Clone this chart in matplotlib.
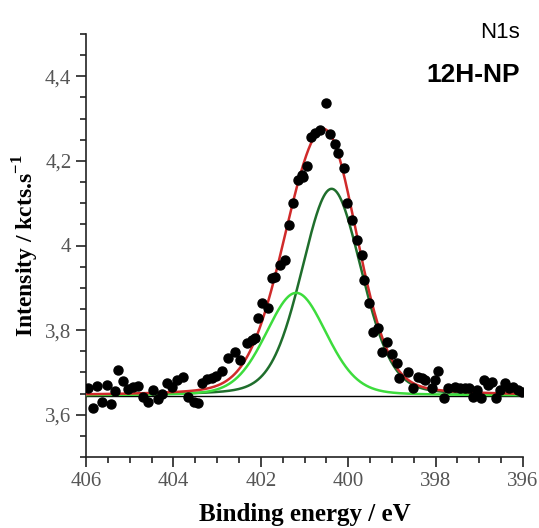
import numpy as np
import matplotlib
matplotlib.use('Agg')
import matplotlib.pyplot as plt
from matplotlib.ticker import MultipleLocator, FixedLocator, FixedFormatter

# measured XPS points (binding energy in eV, intensity in kcts/s)
energy = [405.95, 405.83, 405.74, 405.64, 405.53, 405.43, 405.34, 405.26, 405.15, 405.03,
          404.92, 404.80, 404.69, 404.57, 404.46, 404.35, 404.25, 404.15, 404.04, 403.92,
          403.77, 403.66, 403.54, 403.43, 403.35, 403.24, 403.12, 403.03, 402.89, 402.74,
          402.59, 402.48, 402.32, 402.21, 402.13, 402.06, 401.98, 401.83, 401.75, 401.68,
          401.56, 401.45, 401.35, 401.27, 401.16, 401.06, 401.03, 400.95, 400.86, 400.76,
          400.65, 400.51, 400.42, 400.30, 400.23, 400.10, 400.03, 399.92, 399.79, 399.69,
          399.63, 399.52, 399.43, 399.31, 399.23, 399.12, 399.00, 398.89, 398.83, 398.64,
          398.52, 398.41, 398.32, 398.24, 398.09, 398.01, 397.94, 397.81, 397.71, 397.56,
          397.44, 397.33, 397.24, 397.14, 397.05, 396.96, 396.89, 396.79, 396.71, 396.62,
          396.53, 396.41, 396.32, 396.22, 396.11, 396.03]
counts = [3.662, 3.615, 3.668, 3.631, 3.670, 3.625, 3.657, 3.706, 3.680, 3.660,
          3.666, 3.668, 3.641, 3.631, 3.658, 3.636, 3.649, 3.674, 3.665, 3.682,
          3.688, 3.643, 3.631, 3.627, 3.674, 3.684, 3.686, 3.691, 3.704, 3.733,
          3.749, 3.729, 3.769, 3.777, 3.781, 3.828, 3.863, 3.852, 3.922, 3.926,
          3.954, 3.966, 4.048, 4.100, 4.155, 4.167, 4.163, 4.188, 4.257, 4.265,
          4.273, 4.338, 4.263, 4.240, 4.218, 4.184, 4.101, 4.060, 4.013, 3.978,
          3.918, 3.863, 3.796, 3.806, 3.749, 3.773, 3.743, 3.722, 3.686, 3.702,
          3.664, 3.690, 3.686, 3.682, 3.662, 3.682, 3.703, 3.639, 3.662, 3.666,
          3.662, 3.663, 3.662, 3.643, 3.658, 3.639, 3.682, 3.670, 3.678, 3.639,
          3.658, 3.674, 3.664, 3.666, 3.658, 3.654]

# fitted components
baseline = 3.645
peak_pos = [400.38, 401.19]
peak_height = [0.489, 0.243]
peak_fwhm = [1.62, 1.64]
peak_colors = ['#1f6e2c', '#3ddc3d']
lorentz_frac = 0.2

ytick_vals = [3.6, 3.8, 4.0, 4.2, 4.4]
ytick_labels = ['3,6', '3,8', '4', '4,2', '4,4']
xtick_vals = [406, 404, 402, 400, 398, 396]


def pseudo_voigt(x, x0, h, fwhm, eta):
    sig = fwhm / 2.3548
    g = np.exp(-(x - x0) ** 2 / (2 * sig ** 2))
    l = 1.0 / (1 + ((x - x0) / (fwhm / 2)) ** 2)
    return h * ((1 - eta) * g + eta * l)


fig = plt.figure(figsize=(5.39, 5.28), dpi=100)
ax = fig.add_axes([86 / 539, 1 - 457 / 528, (523 - 86) / 539, (457 - 34) / 528])

xs = np.linspace(406, 396, 600)
total = np.full_like(xs, baseline)
ax.plot([406, 396], [baseline, baseline], color='black', lw=1.0, zorder=2)
for pos, h, w, c in zip(peak_pos, peak_height, peak_fwhm, peak_colors):
    comp = pseudo_voigt(xs, pos, h, w, lorentz_frac)
    total = total + comp
    ax.plot(xs, baseline + comp, color=c, lw=1.8, zorder=3)
ax.plot(xs, total, color='#d02a2a', lw=1.8, zorder=4)
ax.plot(energy, counts, 'o', color='black', ms=6.5, zorder=5)

ax.set_xlim(406, 396)
ax.set_ylim(3.5, 4.5)
ax.spines['top'].set_visible(False)
ax.spines['right'].set_visible(False)
for s in ['left', 'bottom']:
    ax.spines[s].set_linewidth(1.2)
    ax.spines[s].set_color('#222222')

ax.xaxis.set_major_locator(FixedLocator(xtick_vals))
ax.xaxis.set_minor_locator(MultipleLocator(0.5))
ax.yaxis.set_major_locator(FixedLocator(ytick_vals))
ax.yaxis.set_major_formatter(FixedFormatter(ytick_labels))
ax.yaxis.set_minor_locator(MultipleLocator(0.05))
ax.tick_params(which='major', direction='out', length=7, width=1.2, color='#222222',
               labelsize=15, labelcolor='#555555')
ax.tick_params(which='minor', direction='out', length=4, width=1.2, color='#222222')
for lab in ax.get_xticklabels() + ax.get_yticklabels():
    lab.set_fontfamily('Liberation Serif')

ax.set_xlabel('Binding energy / eV', fontfamily='Liberation Serif', fontweight='bold',
              fontsize=18, labelpad=9)
ax.set_ylabel('Intensity / kcts.s$^{\\mathregular{-1}}$', fontfamily='Liberation Serif',
              fontweight='bold', fontsize=17, labelpad=3)

fig.text(520 / 539, 1 - 33 / 528, 'N1s', ha='right', va='center',
         fontfamily='Liberation Sans', fontsize=16)
fig.text(520 / 539, 1 - 75 / 528, '12H-NP', ha='right', va='center',
         fontfamily='Liberation Sans', fontweight='bold', fontsize=19)

fig.savefig('out.png', dpi=100)
